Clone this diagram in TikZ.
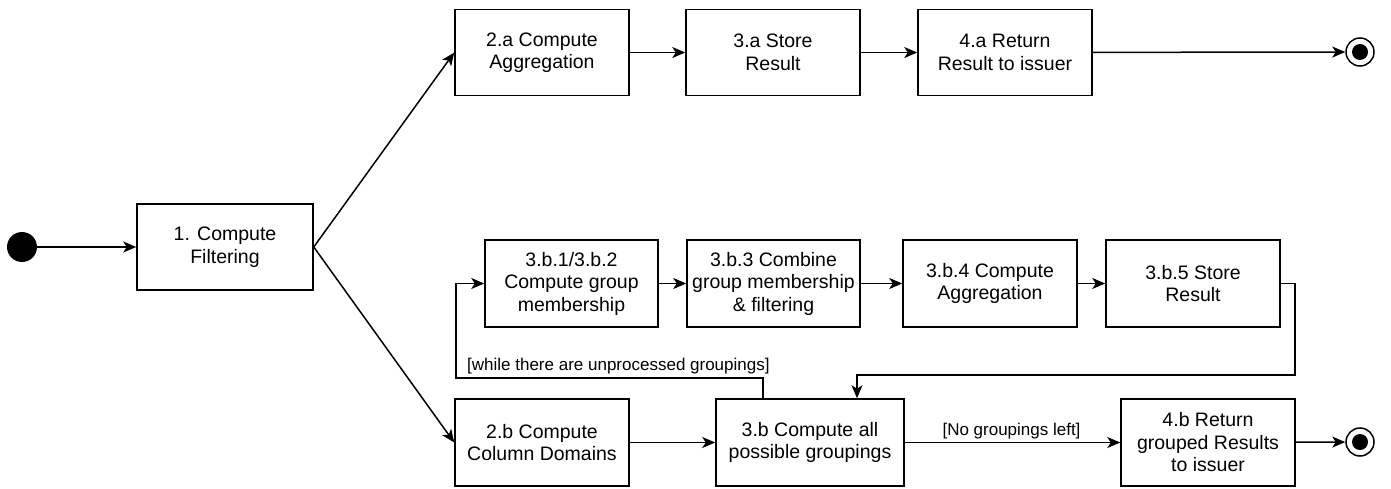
\documentclass[tikz,border=0pt]{standalone}
\usepackage{fontspec}
\setmainfont{Liberation Sans}
\usetikzlibrary{arrows.meta}
\begin{document}
\begin{tikzpicture}[x=1pt,y=-1pt,
  box/.style={draw,line width=1.5pt,minimum width=174pt,minimum height=86pt,align=center,inner sep=2pt,font=\fontsize{19.5}{22.5}\selectfont},
  arr/.style={line width=1.5pt,-{Stealth[length=13pt,width=11pt,inset=3.5pt]}},
  lbl/.style={font=\fontsize{17}{19.5}\selectfont,inner sep=0pt}]
\useasboundingbox (0,0) rectangle (1391,489);
\fill (22,247) circle (15);
\node[circle,minimum size=30pt,inner sep=0pt] (start) at (22,247) {};
\node[box,minimum width=176pt] (f) at (225,247) {1. Compute\\Filtering};
\node[box] (a2) at (542,52.5) {2.a Compute\\Aggregation};
\node[box] (a3) at (773,52.5) {3.a Store\\Result};
\node[box] (a4) at (1005,52.5) {4.a Return\\Result to issuer};
\node[draw,circle,line width=1.5pt,minimum size=28pt,inner sep=0pt] (ea) at (1360,52) {};
\fill (ea) circle (8);
\node[box,minimum width=173pt,minimum height=87pt] (b1) at (571.5,283.5) {3.b.1/3.b.2\\Compute group\\membership};
\node[box,minimum width=173pt,minimum height=87pt] (b3) at (773.5,283.5) {3.b.3 Combine\\group membership\\\& filtering};
\node[box,minimum height=87pt] (b4) at (990,283.5) {3.b.4 Compute\\Aggregation};
\node[box,minimum height=87pt] (b5) at (1193,283.5) {3.b.5 Store\\Result};
\node[box,minimum height=87pt] (b2) at (542,442.5) {2.b Compute\\Column Domains};
\node[box,minimum width=188pt,minimum height=87pt] (bb) at (810,442.5) {3.b Compute all\\possible groupings};
\node[box,minimum height=87pt] (b6) at (1208,442.5) {4.b Return\\grouped Results\\to issuer};
\node[draw,circle,line width=1.5pt,minimum size=28pt,inner sep=0pt] (eb) at (1360,442) {};
\fill (eb) circle (8);
\draw[arr] (start) -- (f);
\draw[arr] (f.east) -- (a2.west);
\draw[arr] (f.east) -- (b2.west);
\draw[arr] (a2) -- (a3);
\draw[arr] (a3) -- (a4);
\draw[arr] (a4) -- (ea);
\draw[arr] (b1) -- (b3);
\draw[arr] (b3) -- (b4);
\draw[arr] (b4) -- (b5);
\draw[arr] (b5.east) -- ++(14,0) |- (857,375) -- (bb.north -| 857,0);
\draw[arr] (bb.north -| 763,0) -- (763,378) -- (456,378) |- (b1.west);
\node[lbl,anchor=base west] (wl) at (467,370.5) {[while there are unprocessed groupings]};
\node[lbl,anchor=base] (nl) at (1011.5,435) {[No groupings left]};
\draw[arr] (b2) -- (bb);
\draw[arr] (bb) -- (b6);
\draw[arr] (b6) -- (eb);
\end{tikzpicture}
\end{document}
